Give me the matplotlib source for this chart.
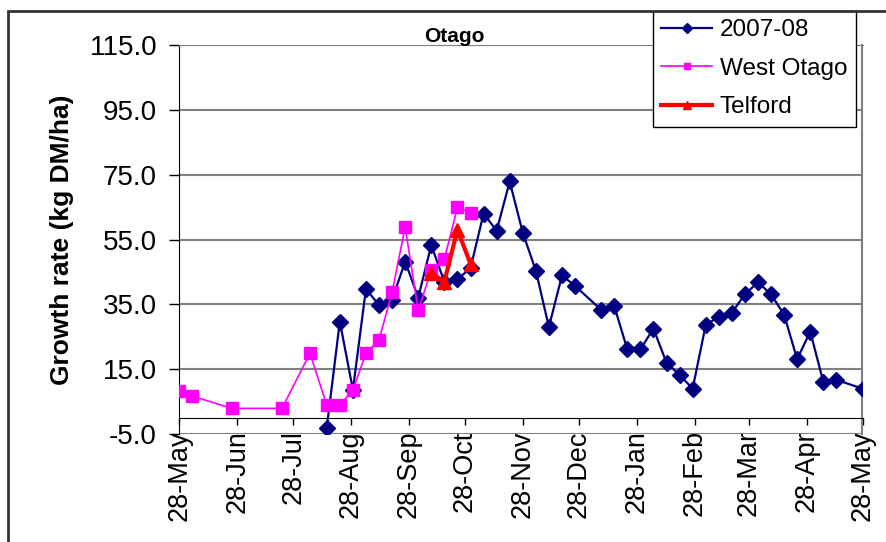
import datetime as dt

import matplotlib
matplotlib.use("Agg")
import matplotlib.dates as mdates
import matplotlib.pyplot as plt
from matplotlib.patches import Rectangle

plt.rcParams["font.family"] = ["Liberation Sans", "DejaVu Sans"]

# 2007-08 season (weekly readings)
season_dates = [
    "2007-08-15", "2007-08-22", "2007-08-29", "2007-09-05", "2007-09-12",
    "2007-09-19", "2007-09-26", "2007-10-03", "2007-10-10", "2007-10-17",
    "2007-10-24", "2007-10-31", "2007-11-07", "2007-11-14", "2007-11-21",
    "2007-11-28", "2007-12-05", "2007-12-12", "2007-12-19", "2007-12-26",
    "2008-01-09", "2008-01-16", "2008-01-23", "2008-01-30", "2008-02-06",
    "2008-02-13", "2008-02-20", "2008-02-27", "2008-03-05", "2008-03-12",
    "2008-03-19", "2008-03-26", "2008-04-02", "2008-04-09", "2008-04-16",
    "2008-04-23", "2008-04-30", "2008-05-07", "2008-05-14", "2008-05-28",
]
season_rates = [
    -3.0, 29.7, 8.6, 39.8, 34.7, 36.4, 48.2, 37.1, 53.3, 41.9,
    42.8, 46.1, 63.0, 57.7, 72.9, 57.1, 45.4, 28.0, 43.9, 40.7,
    33.3, 34.5, 21.1, 21.1, 27.5, 17.0, 13.2, 9.0, 28.6, 31.2,
    32.4, 38.1, 41.8, 38.1, 31.8, 18.1, 26.6, 11.1, 11.7, 9.0,
]

west_dates = [
    "2007-05-28", "2007-06-04", "2007-06-25", "2007-07-22", "2007-08-06",
    "2007-08-15", "2007-08-22", "2007-08-29", "2007-09-05", "2007-09-12",
    "2007-09-19", "2007-09-26", "2007-10-03", "2007-10-10", "2007-10-17",
    "2007-10-24", "2007-10-31",
]
west_rates = [
    8.3, 6.7, 2.9, 2.9, 19.9, 3.9, 3.9, 8.6, 19.9, 24.0,
    38.7, 58.9, 33.1, 45.6, 48.9, 64.9, 63.3,
]

telford_dates = ["2007-10-10", "2007-10-17", "2007-10-24", "2007-10-31"]
telford_rates = [44.6, 42.0, 58.0, 47.5]

y_ticks = [-5, 15, 35, 55, 75, 95, 115]


def to_dates(values):
    return [dt.datetime.strptime(v, "%Y-%m-%d") for v in values]


W, H = 887, 542
fig = plt.figure(figsize=(W / 100, H / 100), dpi=100)
ax = fig.add_axes([179.3 / W, 1 - 434 / H, (862.5 - 179.3) / W, (434 - 45) / H])

ax.plot(to_dates(season_dates), season_rates, color="#000080", lw=1.6,
        marker="D", ms=8, label="2007-08", zorder=3)
ax.plot(to_dates(west_dates), west_rates, color="#FF00FF", lw=1.2,
        marker="s", ms=8, label="West Otago", zorder=4)
ax.plot(to_dates(telford_dates), telford_rates, color="#FF0000", lw=3,
        marker="^", ms=9.5, label="Telford", zorder=5)

# axes limits and ticks
ax.set_ylim(-5, 115)
ax.set_yticks(y_ticks)
ax.set_yticklabels([f"{v:.1f}" for v in y_ticks])
ax.set_xlim(dt.datetime(2007, 5, 28), dt.datetime(2008, 5, 28))
ax.xaxis.set_major_locator(mdates.MonthLocator(bymonthday=28))
ax.xaxis.set_major_formatter(mdates.DateFormatter("%d-%b"))

ax.grid(axis="y", color="#808080", lw=1.5, zorder=0)
ax.spines["bottom"].set_position(("data", 0))
ax.spines["bottom"].set_color("black")
ax.spines["left"].set_color("black")
ax.spines["top"].set_color("#808080")
ax.spines["right"].set_color("#808080")
ax.spines["right"].set_linewidth(1.5)

ax.tick_params(axis="y", direction="out", length=7, width=1, pad=9, labelsize=20)
ax.tick_params(axis="x", direction="out", length=5, width=1, pad=4, labelsize=19.5,
               labelrotation=90)

ax.set_ylabel("Growth rate (kg DM/ha)", fontsize=19, fontweight="bold", labelpad=11)
fig.text(454 / W, 1 - 46 / H, "Otago", ha="center", va="bottom",
         fontsize=15, fontweight="bold")

leg = ax.legend(loc="upper left", bbox_to_anchor=(652.7 / W, 1 - 10.7 / H),
                bbox_transform=fig.transFigure, borderaxespad=0, fancybox=False,
                edgecolor="black", framealpha=1, fontsize=17.5, markerscale=0.6,
                handlelength=2.1, handletextpad=0.3, labelspacing=0.68,
                borderpad=0.35)
leg.get_frame().set_linewidth(1)
leg.set_zorder(10)

# outer chart border (left and top edges visible in the crop)
fig.add_artist(Rectangle((8 / W, -0.1), 1.2, 1.1 - 10.7 / H, transform=fig.transFigure,
                         fill=False, lw=2, ec="#333333"))

fig.savefig("out.png", dpi=100)
